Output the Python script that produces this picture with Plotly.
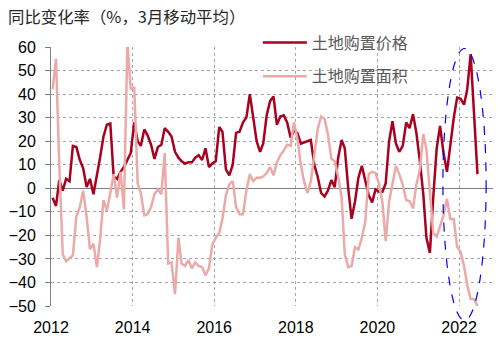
import pandas as pd
import plotly.graph_objects as go

# ---- data (monthly, 3-month moving average YoY %) ----
start_month = "2012-01-01"
n_months = 126
price_name = "土地购置价格"
area_name = "土地购置面积"

price_yoy = [
    -4, -7.5, 3.5, -1, 4, 3, 18, 17.5, 12, 8.5, 0.5, 4,
    -2.5, 5, 13, 22, 27, 27.5, 5, 4, 7, 9, 12, 15,
    28, 20, 18, 25, 22.5, 18.5, 12.5, 17.5, 18.5, 25.5, 24, 22,
    15.5, 13, 11.5, 10.5, 11, 11, 13, 14, 12, 17, 9, 10.5,
    11.5, 26, 24, 8, 5.5, 10, 23.5, 24, 28, 30, 40, 29,
    20, 15.5, 19, 31, 37, 39, 27, 30.5, 31, 28, 21.5, 24.5,
    23.5, 19, 19.5, 20, 20.5, 10, 5, -2, -3.5, -1, 3.5, 0.5,
    13, 20.5, 17, 0, -13, -5.5, 4.5, 9.5, 3, -3, -6, -0.5,
    -1.5, -1.5, 2, 20, 28.5, 19, 15.5, 18, 28, 25.5, 31.5, 23.5,
    11.5, -2.5, -21, -27.5, -4, 17, 26.5, 15, 7, 18.5, 30, 38.5,
    38, 35.5, 42, 57, 31, 6,
]

area_yoy = [
    42, 55, 10, -28, -31, -29.5, -28.5, -12, -8, -1, -12, -26,
    -23.5, -33.5, -22, -5, -9.5, -2, 6, -4, 7, -9, 62, 42,
    43, 2, -2, -11.5, -11, -8, -2.5, -0.5, -2.5, 15, -32, -31.5,
    -45, -21, -32, -33, -30.5, -34, -31.5, -33, -33.5, -37, -34, -24,
    -21, -19, -13, -3, 1.5, 3, -8, -11, -11, -1, 6, 3,
    4.5, 4.5, 5, 6.5, 9, 5.5, 11, 14, 16, 18.5, 18, 28,
    21, 10, 3, -2, 3, 14, 25, 30.5, 29.5, 23, 12.5, 11.5,
    5, -4, -28, -33.5, -33, -25, -26, -21, -14, 6, 7, 6.5,
    2, -6, -22.5, -5.5, 1.5, 9.5, 6, 1.5, -5, -5.5, -8.5, 1.5,
    8, 23, 16.5, -2, -19, -20.5, -16.5, -11.5, -4.5, -13, -13, -25,
    -27, -33, -41, -47, -47, -50,
]

year_ticks = ["2012", "2014", "2016", "2018", "2020", "2022"]
y_ticks = [60, 50, 40, 30, 20, 10, 0, -10, -20, -30, -40, -50]

dates = pd.date_range(start_month, periods=n_months, freq="MS") + pd.Timedelta(days=14)

RED = "#A8001E"
PINK = "#EBAAA8"
GRID = "#A6A6A6"
AXIS = "#7F7F7F"

fig = go.Figure()
fig.add_trace(go.Scatter(x=dates, y=price_yoy, name=price_name, mode="lines",
                         line=dict(color=RED, width=2.5), legendgroup="a"))
fig.add_trace(go.Scatter(x=dates, y=area_yoy, name=area_name, mode="lines",
                         line=dict(color=PINK, width=2.5), legendgroup="b"))

tickvals = [pd.Timestamp(y + "-01-01") for y in year_ticks]

fig.update_layout(
    width=502, height=345,
    margin=dict(l=43, r=9, t=47, b=37),
    plot_bgcolor="white", paper_bgcolor="white",
    font=dict(family="Liberation Sans, Noto Sans CJK SC", size=16, color="#000000"),
    title=dict(text="同比变化率（%，3月移动平均）", xref="container", yref="container",
               x=8 / 502, y=1 - 17 / 345, xanchor="left", yanchor="middle",
               font=dict(family="Noto Sans CJK SC", size=16.4, color="#262626")),
    showlegend=True,
    legend=dict(x=0.468, y=1.083, xanchor="left", yanchor="top",
                bgcolor="rgba(0,0,0,0)", font=dict(family="Noto Sans CJK SC", size=16, color="#595959"),
                tracegroupgap=10, itemwidth=44),
    xaxis=dict(range=["2012-01-01", "2022-11-01"], tickvals=tickvals, ticktext=year_ticks,
               showgrid=True, gridcolor=GRID, griddash="dot", gridwidth=1,
               showline=False, zeroline=False, ticks="", ticklabelstandoff=10,
               tickfont=dict(family="Liberation Sans", size=16, color="#000000")),
    yaxis=dict(range=[-50, 60], tickvals=y_ticks,
               showgrid=True, gridcolor=GRID, griddash="dot", gridwidth=1,
               showline=True, linecolor=AXIS, linewidth=1,
               zeroline=True, zerolinecolor=AXIS, zerolinewidth=1,
               ticks="outside", ticklen=5, tickcolor=AXIS, ticklabelstandoff=6,
               tickfont=dict(family="Liberation Sans", size=16, color="#000000")),
    shapes=[dict(type="circle", xref="paper", yref="paper",
                 x0=(442 - 43) / 450, x1=(486 - 43) / 450,
                 y0=(308 - 322.5) / 261, y1=(308 - 48.5) / 261,
                 line=dict(color="#0000FF", width=1.2, dash="dash"), layer="above")],
)

fig.write_html("out.html")
